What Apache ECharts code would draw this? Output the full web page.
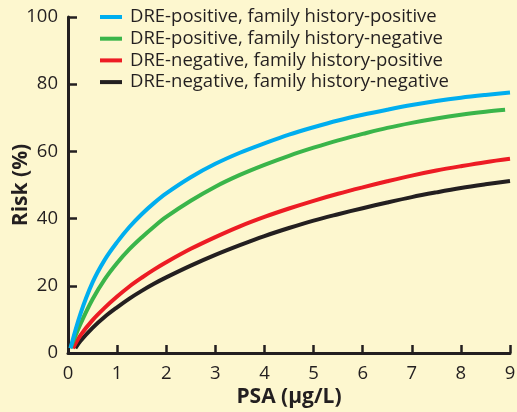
<!DOCTYPE html>
<html>
<head>
<meta charset="utf-8">
<script src="https://cdn.jsdelivr.net/npm/echarts@6/dist/echarts.min.js"></script>
<style>
html,body{margin:0;padding:0;background:#FDF7CF;}
#chart{width:517px;height:412px;}
</style>
</head>
<body>
<div id="chart"></div>
<script>
const seriesNames = [
  'DRE-positive, family history-positive',
  'DRE-positive, family history-negative',
  'DRE-negative, family history-positive',
  'DRE-negative, family history-negative'
];
const blueX  = [0.05, 0.25, 0.5, 0.75, 1, 1.25, 1.5, 1.75, 2, 2.5, 3, 3.5, 4, 4.5, 5, 5.5, 6, 6.5, 7, 7.5, 8, 8.5, 9];
const blueY  = [1.4, 11.5, 21, 27.8, 33, 37.5, 41.3, 44.6, 47.5, 52.3, 56.3, 59.6, 62.4, 65, 67.2, 69.2, 70.9, 72.4, 73.8, 75, 76, 76.8, 77.5];
const greenX = [0.05, 0.25, 0.5, 0.75, 1, 1.25, 1.5, 1.75, 2, 2.5, 3, 3.5, 4, 4.5, 5, 5.5, 6, 6.5, 7, 7.5, 8, 8.5, 8.9];
const greenY = [1.4, 8.5, 16, 22, 26.8, 30.9, 34.4, 37.6, 40.5, 45.3, 49.5, 53, 56, 58.7, 61.1, 63.3, 65.2, 67, 68.5, 69.8, 70.9, 71.8, 72.4];
const redX   = [0.1, 0.25, 0.5, 0.75, 1, 1.25, 1.5, 1.75, 2, 2.5, 3, 3.5, 4, 4.5, 5, 5.5, 6, 6.5, 7, 7.5, 8, 8.5, 9];
const redY   = [1.4, 5.2, 9.8, 13.5, 16.8, 19.8, 22.4, 24.8, 27, 31, 34.5, 37.7, 40.5, 43, 45.3, 47.4, 49.3, 51.1, 52.8, 54.3, 55.6, 56.8, 57.8];
const blackX = [0.15, 0.25, 0.5, 0.75, 1, 1.25, 1.5, 1.75, 2, 2.5, 3, 3.5, 4, 4.5, 5, 5.5, 6, 6.5, 7, 7.5, 8, 8.5, 9];
const blackY = [1.4, 3.5, 7.5, 10.8, 13.6, 16.2, 18.5, 20.6, 22.5, 26, 29.2, 32.1, 34.8, 37.2, 39.4, 41.3, 43.1, 44.8, 46.4, 47.8, 49.1, 50.2, 51.2];
const xTicks = [0, 1, 2, 3, 4, 5, 6, 7, 8, 9];
const yTicks = [0, 20, 40, 60, 80, 100];

const colors = ['#00AEEF', '#3AB54A', '#ED1C24', '#231F20'];
const xs = [blueX, greenX, redX, blackX];
const ys = [blueY, greenY, redY, blackY];
const ink = '#231F20';
const font = 'Open Sans';

const chart = echarts.init(document.getElementById('chart'));
chart.setOption({
  backgroundColor: '#FDF7CF',
  animation: false,
  grid: {left: 68, right: 7, top: 17, bottom: 59, containLabel: false, outerBoundsMode: 'none'},
  legend: {
    orient: 'vertical', left: 100, top: 7, itemGap: 1.7, padding: 0,
    icon: 'rect', itemWidth: 22, itemHeight: 4,
    textStyle: {fontFamily: font, fontSize: 18.5, color: ink, lineHeight: 20, padding: [0,0,0,3]},
    data: seriesNames
  },
  xAxis: {
    type: 'value', min: xTicks[0], max: xTicks[xTicks.length-1], interval: 1,
    name: 'PSA (\u03bcg/L)', nameLocation: 'middle', nameGap: 34, nameMoveOverlap: false,
    nameTextStyle: {fontFamily: font, fontSize: 21, fontWeight: 'bold', color: ink},
    axisLine: {lineStyle: {color: ink, width: 3}},
    axisTick: {inside: true, length: 8, lineStyle: {color: ink, width: 2.5}},
    axisLabel: {fontFamily: font, fontSize: 18.5, color: ink, margin: 11, showMaxLabel: true},
    splitLine: {show: false}
  },
  yAxis: {
    type: 'value', min: yTicks[0], max: yTicks[yTicks.length-1], interval: 20,
    name: 'Risk (%)', nameLocation: 'middle', nameGap: 36, nameRotate: 90, nameMoveOverlap: false,
    nameTextStyle: {fontFamily: font, fontSize: 21, fontWeight: 'bold', color: ink},
    axisLine: {show: true, lineStyle: {color: ink, width: 3}},
    axisTick: {show: true, inside: true, length: 9, lineStyle: {color: ink, width: 2.5}},
    axisLabel: {fontFamily: font, fontSize: 18.5, color: ink, margin: 10},
    splitLine: {show: false}
  },
  series: seriesNames.map((n, i) => ({
    name: n, type: 'line', smooth: 0.35, showSymbol: false, symbol: 'none',
    color: colors[i],
    lineStyle: {width: 4, color: colors[i]},
    data: xs[i].map((x, j) => [x, ys[i][j]])
  })).reverse()
});
</script>
</body>
</html>
